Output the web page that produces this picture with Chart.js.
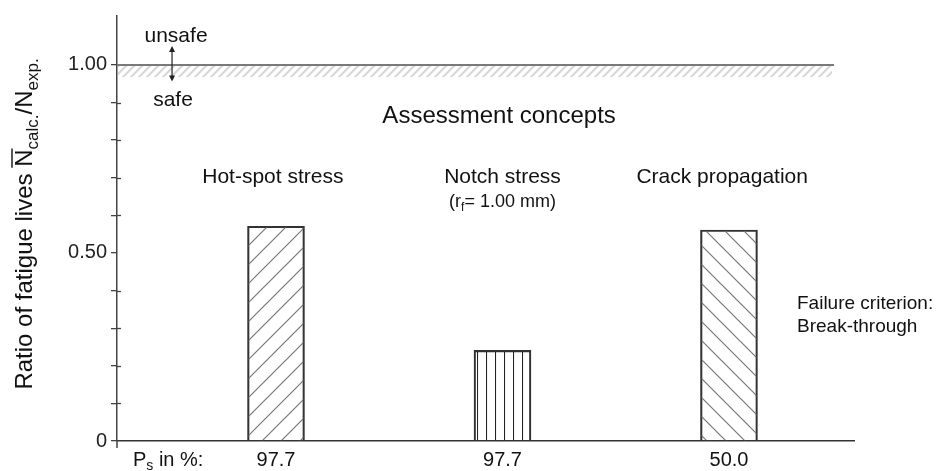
<!DOCTYPE html>
<html>
<head>
<meta charset="utf-8">
<script src="https://cdn.jsdelivr.net/npm/chart.js@4"></script>
<style>
  html, body { margin: 0; padding: 0; background: #fff; }
  #wrap { width: 938px; height: 471px; }
</style>
</head>
<body>
<div id="wrap"><canvas id="grafico" width="938" height="471"></canvas></div>
<script>
// dados
const conceitos = ['Hot-spot stress', 'Notch stress', 'Crack propagation'];
const posicoes = [1, 2, 3];
const razoes = [0.571, 0.241, 0.561];
const psValores = ['97.7', '97.7', '50.0'];
const yTicks = [0, 0.1, 0.2, 0.3, 0.4, 0.5, 0.6, 0.7, 0.8, 0.9, 1.0];
const yRotulos = ['0', '', '', '', '', '0.50', '', '', '', '', '1.00'];

const FONTE = '"Liberation Sans", Arial, sans-serif';
const COR_TEXTO = '#111';

function criarHachura(tipo, cor, largura, passo) {
    const c = document.createElement('canvas');
    c.width = passo;
    c.height = passo;
    const g = c.getContext('2d');
    g.strokeStyle = cor;
    g.lineWidth = largura;
    g.beginPath();
    if (tipo === 'v') {
        g.moveTo(0.5, 0); g.lineTo(0.5, passo);
    } else if (tipo === '/') {
        g.moveTo(-2, passo + 2); g.lineTo(passo + 2, -2);
        g.moveTo(-2, 2); g.lineTo(2, -2);
        g.moveTo(passo - 2, passo + 2); g.lineTo(passo + 2, passo - 2);
    } else {
        g.moveTo(-2, -2); g.lineTo(passo + 2, passo + 2);
        g.moveTo(passo - 2, -2); g.lineTo(passo + 2, 2);
        g.moveTo(-2, passo - 2); g.lineTo(2, passo + 2);
    }
    g.stroke();
    return g.createPattern(c, 'repeat');
}

const padroes = [
    criarHachura('/', '#777', 1.2, 19),
    criarHachura('v', '#222', 1.1, 9),
    criarHachura('\\', '#777', 1.2, 19)
];

function textoComSub(ctx, partes, x, y, alinhar) {
    // partes: [texto, tamanho, deslocamento]
    let total = 0;
    partes.forEach(p => {
        ctx.font = p[1] + 'px ' + FONTE;
        total += ctx.measureText(p[0]).width;
    });
    let cx = alinhar === 'center' ? x - total / 2 : x;
    ctx.textAlign = 'left';
    const pos = [];
    partes.forEach(p => {
        ctx.font = p[1] + 'px ' + FONTE;
        ctx.fillText(p[0], cx, y + (p[2] || 0));
        const w = ctx.measureText(p[0]).width;
        pos.push([cx, w]);
        cx += w;
    });
    return pos;
}

const anotacoes = {
    id: 'anotacoes',
    beforeDatasetsDraw(chart) {
        const ctx = chart.ctx;
        const xs = chart.scales.x, ys = chart.scales.y;
        const esq = chart.chartArea.left;
        const dirLinha = xs.getPixelForValue(3.464);
        const y1 = ys.getPixelForValue(1.0);
        const yb = ys.getPixelForValue(0.968);
        ctx.save();
        // faixa hachurada abaixo de 1.00
        ctx.fillStyle = criarHachura('/', '#d6d6d6', 2, 8);
        ctx.fillRect(esq + 1, y1, dirLinha - esq - 3, yb - y1);
        ctx.strokeStyle = '#7a7a7a';
        ctx.lineWidth = 2;
        ctx.beginPath();
        ctx.moveTo(esq, y1);
        ctx.lineTo(dirLinha, y1);
        ctx.stroke();
        // marcas menores do eixo y (lado interno)
        ctx.strokeStyle = '#444';
        ctx.lineWidth = 1.3;
        yTicks.forEach((v, i) => {
            if (yRotulos[i] !== '') return;
            const py = Math.round(ys.getPixelForValue(v)) + 0.5;
            ctx.beginPath();
            ctx.moveTo(esq, py);
            ctx.lineTo(esq + 4, py);
            ctx.stroke();
        });
        // prolongamento do eixo y abaixo de 0
        ctx.lineWidth = 1.5;
        ctx.beginPath();
        ctx.moveTo(esq, ys.getPixelForValue(0));
        ctx.lineTo(esq, ys.getPixelForValue(0) + 7);
        ctx.stroke();
        ctx.restore();
    },
    afterDraw(chart) {
        const ctx = chart.ctx;
        const xs = chart.scales.x, ys = chart.scales.y;
        ctx.save();
        ctx.fillStyle = COR_TEXTO;
        ctx.textBaseline = 'middle';
        ctx.textAlign = 'center';

        // unsafe / safe com seta dupla
        const xSeta = xs.getPixelForValue(0.541);
        ctx.font = '21px ' + FONTE;
        ctx.fillText('unsafe', xSeta + 4, ys.getPixelForValue(1.076));
        ctx.fillText('safe', xSeta + 1, ys.getPixelForValue(0.905));
        const yTopo = ys.getPixelForValue(1.05), yBase = ys.getPixelForValue(0.956);
        ctx.strokeStyle = '#222';
        ctx.lineWidth = 1.2;
        ctx.beginPath();
        ctx.moveTo(xSeta, yTopo + 2);
        ctx.lineTo(xSeta, yBase - 2);
        ctx.stroke();
        ctx.beginPath();
        ctx.moveTo(xSeta, yTopo); ctx.lineTo(xSeta - 3, yTopo + 6); ctx.lineTo(xSeta + 3, yTopo + 6); ctx.closePath();
        ctx.moveTo(xSeta, yBase); ctx.lineTo(xSeta - 3, yBase - 6); ctx.lineTo(xSeta + 3, yBase - 6); ctx.closePath();
        ctx.fillStyle = '#222';
        ctx.fill();
        ctx.fillStyle = COR_TEXTO;

        // titulo dos conceitos
        ctx.font = '24px ' + FONTE;
        ctx.fillText('Assessment concepts', xs.getPixelForValue(1.985), ys.getPixelForValue(0.862));

        ctx.font = '21px ' + FONTE;
        const yConc = ys.getPixelForValue(0.702);
        const desloc = [-0.014, 0.0, -0.03];
        conceitos.forEach((c, i) => {
            ctx.fillText(c, xs.getPixelForValue(posicoes[i] + desloc[i]), yConc);
        });
        ctx.textBaseline = 'alphabetic';
        const yR = ys.getPixelForValue(0.6415) + 7;
        textoComSub(ctx, [['(r', 18], ['f', 12, 4], ['= 1.00 mm)', 18]], xs.getPixelForValue(2.0), yR, 'center');

        // criterio de falha
        ctx.textBaseline = 'middle';
        ctx.textAlign = 'left';
        ctx.font = '19px ' + FONTE;
        ctx.fillText('Failure criterion:', 797, ys.getPixelForValue(0.366));
        ctx.fillText('Break-through', 797, ys.getPixelForValue(0.305));

        // P_s in %:
        ctx.textBaseline = 'alphabetic';
        textoComSub(ctx, [['P', 20], ['s', 14, 4], [' in %:', 20]], 133, 466, 'left');

        // titulo do eixo y (rotacionado)
        ctx.translate(32, 224);
        ctx.rotate(-Math.PI / 2);
        const pos = textoComSub(ctx, [
            ['Ratio of fatigue lives ', 24],
            ['N', 24],
            ['calc.', 17, 6],
            ['/', 24],
            ['N', 24],
            ['exp.', 17, 6]
        ], 0, 0, 'center');
        ctx.strokeStyle = '#111';
        ctx.lineWidth = 1.4;
        ctx.beginPath();
        ctx.moveTo(pos[1][0] - 1, -20);
        ctx.lineTo(pos[1][0] + pos[1][1] + 1, -20);
        ctx.stroke();
        ctx.restore();
    }
};

new Chart(document.getElementById('grafico').getContext('2d'), {
    type: 'bar',
    data: {
        datasets: [{
            data: posicoes.map((x, i) => ({ x: x, y: razoes[i] })),
            backgroundColor: padroes,
            borderColor: '#333',
            borderWidth: 1.5,
            barThickness: 57
        }]
    },
    options: {
        responsive: false,
        animation: false,
        devicePixelRatio: 1,
        layout: { padding: { top: 11, right: 84, left: 0, bottom: 0 } },
        plugins: { legend: { display: false }, tooltip: { enabled: false } },
        scales: {
            x: {
                type: 'linear',
                min: 0.298,
                max: 3.552,
                offset: false,
                afterBuildTicks: s => { s.ticks = posicoes.map(v => ({ value: v })); },
                ticks: {
                    callback: (v, i) => psValores[i],
                    font: { size: 20, family: FONTE },
                    color: COR_TEXTO,
                    padding: 7,
                    maxRotation: 0
                },
                grid: { display: false, drawTicks: false, offset: false },
                border: { color: '#333', width: 1.5 },
                afterFit: s => { s.height = 30; }
            },
            y: {
                min: 0,
                max: 1.13,
                afterBuildTicks: s => { s.ticks = yTicks.map(v => ({ value: v })); },
                ticks: {
                    callback: (v, i) => yRotulos[i],
                    font: { size: 20, family: FONTE },
                    color: '#222',
                    padding: 4,
                    autoSkip: false
                },
                grid: { drawOnChartArea: false, tickLength: 6, color: '#444', lineWidth: 1.3 },
                border: { color: '#444', width: 1.5 },
                afterFit: s => { s.width = 117; }
            }
        }
    },
    plugins: [anotacoes]
});
</script>
</body>
</html>
